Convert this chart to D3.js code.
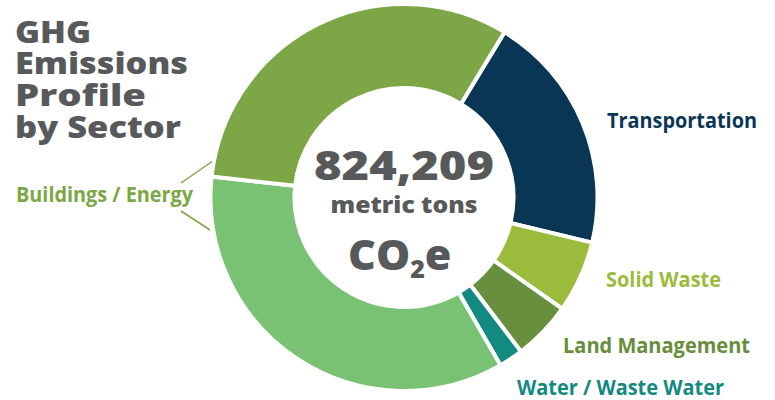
<!DOCTYPE html>
<html>
<head>
<meta charset="utf-8">
<script src="https://cdn.jsdelivr.net/npm/d3@7"></script>
<style>
  html, body { margin: 0; padding: 0; background: #ffffff; }
  svg { display: block; font-family: "Open Sans", sans-serif; }
</style>
</head>
<body>
<svg id="chart" width="775" height="400"></svg>
<script>
// ---- data ----
const categories = ["Transportation", "Solid Waste", "Land Management", "Water / Waste Water", "Buildings / Energy A", "Buildings / Energy B"];
const values = [165300, 49453, 40524, 16713, 288703, 263516];
const colors = ["#0a3655", "#9bbb3c", "#688f3d", "#138a80", "#79c273", "#7da647"];
const titleLines = ["GHG", "Emissions", "Profile", "by Sector"];
const totalLabel = "824,209";
const unitLabel = "metric tons";
const labelNames = ["Transportation", "Solid Waste", "Land Management", "Water / Waste Water", "Buildings / Energy"];
const labelColors = ["#0a3655", "#9bbb3c", "#668e3b", "#138a80", "#7ca745"];

// ---- layout ----
const svg = d3.select("#chart");
const cx = 404, cy = 197.5;
const rOuter = 193.5, rInner = 109.5;
const startDeg = 31.3;

const pie = d3.pie().sort(null).value(d => d)
  .startAngle(startDeg * Math.PI / 180)
  .endAngle(startDeg * Math.PI / 180 + 2 * Math.PI);
const arc = d3.arc().innerRadius(rInner).outerRadius(rOuter);

const g = svg.append("g").attr("transform", `translate(${cx},${cy})`);
g.selectAll("path")
  .data(pie(values))
  .join("path")
  .attr("d", arc)
  .attr("fill", (d, i) => colors[i])
  .attr("stroke", "#ffffff")
  .attr("stroke-width", 4)
  .attr("stroke-linejoin", "miter");

// ---- title ----
const grey = "#58595b";
const titleBase = [43, 74, 106, 138];
const titleWidths = [76, 173, 131, 166];
svg.append("g").selectAll("text")
  .data(titleLines)
  .join("text")
  .attr("x", 15)
  .attr("y", (d, i) => titleBase[i])
  .attr("font-size", 30)
  .attr("font-weight", 800)
  .attr("fill", grey)
  .attr("textLength", (d, i) => titleWidths[i])
  .attr("lengthAdjust", "spacingAndGlyphs")
  .text(d => d);

// ---- centre text ----
svg.append("text")
  .attr("x", cx).attr("y", 180)
  .attr("text-anchor", "middle")
  .attr("font-size", 40).attr("font-weight", 800).attr("fill", grey)
  .attr("textLength", 180).attr("lengthAdjust", "spacingAndGlyphs")
  .text(totalLabel);
svg.append("text")
  .attr("x", cx).attr("y", 213)
  .attr("text-anchor", "middle")
  .attr("font-size", 23).attr("font-weight", 800).attr("fill", grey)
  .attr("textLength", 147).attr("lengthAdjust", "spacingAndGlyphs")
  .text(unitLabel);
const co2 = svg.append("text")
  .attr("x", 348).attr("y", 270)
  .attr("font-size", 43).attr("font-weight", 800).attr("fill", grey);
co2.append("tspan").text("CO");
co2.append("tspan").attr("font-size", 25).attr("dy", 8).text("2");
co2.append("tspan").attr("dy", -8).text("e");

// ---- sector labels ----
const labelPos = [
  {x: 607, y: 128, w: 150},
  {x: 606, y: 287, w: 115},
  {x: 563, y: 353, w: 187},
  {x: 517, y: 395, w: 207},
  {x: 16, y: 202, w: 177}
];
svg.append("g").selectAll("text")
  .data(labelNames)
  .join("text")
  .attr("x", (d, i) => labelPos[i].x)
  .attr("y", (d, i) => labelPos[i].y)
  .attr("font-size", 20.5)
  .attr("font-weight", 700)
  .attr("fill", (d, i) => labelColors[i])
  .attr("textLength", (d, i) => labelPos[i].w)
  .attr("lengthAdjust", "spacingAndGlyphs")
  .text(d => d);

// leader lines for Buildings / Energy
const leaders = [[[181, 183], [212, 161.5]], [[181, 211], [210, 230]]];
svg.append("g").selectAll("line")
  .data(leaders)
  .join("line")
  .attr("x1", d => d[0][0]).attr("y1", d => d[0][1])
  .attr("x2", d => d[1][0]).attr("y2", d => d[1][1])
  .attr("stroke", "#7ca745")
  .attr("stroke-width", 1.5);
</script>
</body>
</html>
